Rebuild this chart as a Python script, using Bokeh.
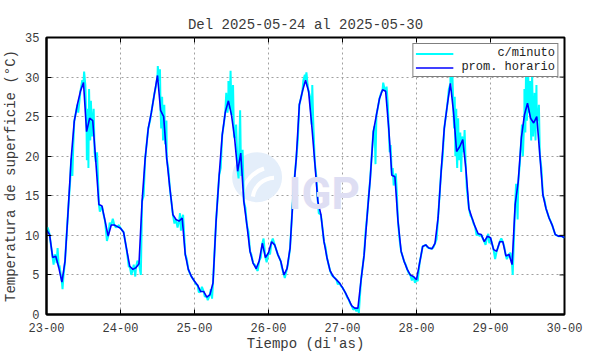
import math
from bokeh.plotting import figure
from bokeh.models import Legend, LegendItem, Range1d, FixedTicker, Label
from bokeh.embed import file_html
from bokeh.resources import INLINE

title_text = "Del 2025-05-24 al 2025-05-30"
x_label = "Tiempo (di'as)"
y_label = "Temperatura de superficie (°C)"
x_tick_hours = [0, 24, 48, 72, 96, 120, 144, 168]
x_tick_labels = ["23-00", "24-00", "25-00", "26-00", "27-00", "28-00", "29-00", "30-00"]
y_ticks = [0, 5, 10, 15, 20, 25, 30, 35]

# hourly mean ("prom. horario"), one value per hour from 23-00 to 30-00
hourly = [
    10.7, 10.1, 7.2, 7.35, 5.9, 4.1, 6.7, 13.0, 19.7, 24.4, 26.5, 28.2, 29.3, 23.1, 24.8, 24.5,
    19.3, 13.9, 13.7, 11.8, 9.9, 11.3, 11.3, 11.1,
    10.9, 10.4, 8.2, 6.1, 5.7, 5.9, 6.4, 14.3, 19.7, 23.5, 25.5, 27.9, 30.2, 25.8, 25.0, 19.7,
    16.0, 12.6, 12.0, 11.8, 12.2, 7.6, 5.7, 4.8,
    4.2, 3.7, 2.9, 2.9, 2.2, 2.5, 4.0, 11.8, 17.6, 22.7, 25.6, 27.0, 25.2, 22.3, 18.1, 20.4,
    14.3, 11.3, 8.0, 6.5, 5.8, 6.8, 9.0, 7.2,
    7.8, 9.2, 8.8, 7.6, 6.7, 5.0, 5.8, 8.4, 15.1, 19.7, 26.5, 28.2, 29.6, 28.2, 24.0, 19.3,
    14.3, 12.6, 9.2, 7.1, 5.5, 4.8, 4.4, 4.0,
    3.4, 2.7, 1.9, 1.1, 0.8, 0.8, 4.3, 7.5, 12.5, 17.2, 23.1, 25.2, 27.3, 28.4, 28.2, 23.5,
    17.6, 17.4, 11.8, 8.0, 6.7, 5.7, 5.0, 4.8,
    4.4, 6.5, 8.6, 8.8, 8.4, 8.3, 9.0, 12.2, 18.1, 23.5, 26.5, 29.2, 25.6, 20.6, 21.2, 22.1,
    18.5, 13.4, 12.2, 11.1, 10.2, 10.1, 9.2, 9.9,
    9.7, 8.2, 8.0, 9.2, 9.2, 7.4, 7.6, 6.3, 13.9, 16.8, 22.3, 25.2, 26.7, 24.8, 24.2, 25.0,
    20.2, 15.1, 13.4, 12.2, 11.3, 10.1, 9.9, 9.9,
    9.7,
]

# per-minute readings ("c/minuto"): excursions (hours from 23-00)
minute_t = [
    0.3, 0.7, 2.3, 2.7, 3.3, 3.6, 4.2, 5.2, 5.5, 7.7, 8.4, 8.7, 10.3, 11.6, 12.2, 12.6, 13.1,
    13.4, 13.6, 13.8, 14.2, 14.4, 14.8, 15.3, 15.6, 16.4, 17.3, 18.4, 19.6, 20.5, 21.5, 22.5, 23.5,
    26.7, 27.5, 28.3, 28.8, 29.5, 30.6, 31.5, 33.6, 35.5, 36.1, 36.5, 36.8, 37.2, 37.5, 37.8,
    38.2, 38.5, 38.9, 39.5, 41.5, 42.5, 43.3, 43.6, 44.3, 45.5, 46.5, 48.5, 49.4, 50.4, 51.3,
    52.3, 53.3, 53.7,
    56.5, 57.5, 58.3, 58.7, 59.0, 59.4, 59.7, 60.2, 60.5, 60.8, 61.5, 62.3, 62.8, 63.2, 63.6,
    64.5, 65.5, 66.5, 67.7, 68.5, 69.5, 70.4, 71.4, 72.5, 73.4, 74.5, 76.3, 77.3, 78.3,
    80.5, 81.5, 82.5, 83.3, 83.8, 84.3, 84.7, 85.5, 86.2, 86.5, 87.5, 88.3, 89.2, 90.5, 91.5,
    92.5, 94.5, 95.5, 97.5, 98.5, 99.5, 100.5, 101.3,
    103.5, 104.5, 106.4, 106.7, 107.5, 108.5, 109.2, 109.6, 110.3, 110.7, 111.3, 111.6, 112.3,
    112.6, 113.3, 113.6, 114.5, 116.5, 117.5, 118.5, 119.5, 120.4, 121.5, 123.5, 125.5, 126.5,
    128.5, 129.5, 130.5, 131.0, 131.3, 131.6, 131.9, 132.2, 132.4, 132.6, 132.9, 133.2, 133.5,
    133.8, 134.2, 134.5, 134.8, 135.3, 135.6, 136.3, 137.5, 138.5, 139.5, 140.5, 141.5, 142.4,
    143.3, 143.6, 145.5, 146.3, 147.5, 148.5, 149.3, 150.5, 151.2,
    152.3, 152.8, 153.5, 154.2, 154.5, 155.0, 155.3, 155.5, 155.8, 156.2, 156.5, 156.8, 157.2,
    157.5, 157.8, 158.3, 158.6, 158.9, 159.4, 159.7, 160.5, 161.5, 163.5, 165.5, 167.5,
]
minute_v = [
    11.0, 10.6, 6.3, 7.6, 6.5, 8.4, 6.2, 3.2, 4.8, 17.0, 17.5, 21.5, 25.5, 29.6, 30.7, 29.0, 19.5,
    26.0, 18.5, 28.5, 22.0, 27.0, 22.5, 26.0, 20.5, 20.5, 13.0, 12.8, 9.3, 11.6, 12.1, 11.0, 11.3,
    6.0, 5.0, 6.3, 4.8, 6.8, 5.0, 15.0, 24.5, 28.8, 31.4, 29.5, 31.0, 23.5, 27.5, 22.0,
    26.5, 21.5, 24.5, 18.5, 11.5, 11.0, 12.8, 10.6, 12.6, 7.0, 5.2, 3.8, 2.8, 3.5, 2.3,
    1.8, 3.2, 2.0,
    18.5, 24.0, 28.0, 25.5, 29.5, 26.0, 30.8, 27.5, 29.0, 22.5, 24.0, 17.2, 25.8, 17.5, 20.8,
    13.5, 10.5, 7.5, 6.2, 5.5, 7.2, 9.6, 6.6, 7.6, 9.6, 8.2, 6.0, 4.6, 6.3,
    17.5, 22.0, 27.3, 29.6, 30.3, 30.6, 29.0, 27.5, 29.0, 24.5, 17.5, 12.8, 12.0, 8.5, 6.3,
    5.0, 3.8, 3.6, 2.2, 1.4, 0.6, 0.4, 0.2,
    10.5, 15.0, 23.8, 19.0, 26.2, 28.0, 29.3, 28.6, 28.8, 26.5, 20.5, 21.4, 18.5,
    16.3, 17.8, 15.5, 9.5, 6.3, 5.2, 4.3, 4.0, 4.2, 7.5, 8.5, 8.5, 9.5,
    20.0, 25.0, 28.5, 30.5, 29.3, 30.8, 27.0, 23.5, 27.5, 20.0, 26.0, 18.5, 24.8,
    19.5, 23.0, 18.0, 22.5, 20.5, 23.3, 16.0, 12.5, 11.5, 10.0, 9.9, 9.6, 8.8,
    10.2, 9.0, 7.0, 8.3, 9.6, 8.5, 7.0, 7.8, 5.0,
    16.5, 12.0, 19.0, 24.0, 20.0, 28.5, 23.0, 30.0, 24.5, 30.7, 25.5, 29.5, 22.0,
    30.5, 22.5, 28.0, 22.0, 29.0, 24.5, 26.5, 18.5, 14.5, 11.8, 10.0, 9.8,
]

hours = list(range(len(hourly)))
pairs = sorted(list(zip(hours, hourly)) + list(zip(minute_t, minute_v)))
cyan_x = [a for a, _ in pairs]
cyan_y = [b for _, b in pairs]

FONT = "Liberation Mono"
TXT = "#3a3a3a"
X0, X1, Y0, Y1 = x_tick_hours[0], x_tick_hours[-1], y_ticks[0], y_ticks[-1]

p = figure(width=590, height=354, output_backend="svg", toolbar_location=None,
           x_range=Range1d(X0, X1), y_range=Range1d(Y0, Y1),
           min_border_left=46, min_border_right=26, min_border_top=37, min_border_bottom=40,
           title=title_text)
p.title.text_font = FONT
p.title.text_font_size = "14px"
p.title.text_font_style = "normal"
p.title.text_color = TXT
p.title.align = "center"
p.background_fill_color = "white"
p.border_fill_color = "white"
p.outline_line_color = "black"
p.outline_line_width = 2

# watermark
p.scatter(x=[68.3], y=[17.35], size=50, fill_color="#e4eefa", line_color=None)
p.arc(x=[74.0], y=[14.5], radius=[22], radius_units="screen", start_angle=1.6, end_angle=3.0,
      line_color="white", line_width=4)
p.arc(x=[74.0], y=[14.5], radius=[33], radius_units="screen", start_angle=1.9, end_angle=2.9,
      line_color="white", line_width=4)
p.add_layout(Label(x=78.5, y=15.2, text="IGP", text_font="Roboto", text_font_size="44px",
                   text_font_style="bold", text_color="#dedef3", text_baseline="alphabetic"))

r_min = p.line(cyan_x, cyan_y, line_color="#00ffff", line_width=2)
r_hr = p.line(hours, hourly, line_color="#0000ff", line_width=1.6)

# inward tick marks on the top and right edges of the frame (clipped to the frame)
p.scatter(x=x_tick_hours, y=[Y1] * len(x_tick_hours), marker="dash", size=10,
          angle=math.pi / 2, line_color="black", line_width=1)
p.scatter(x=[X1] * len(y_ticks), y=y_ticks, marker="dash", size=10,
          line_color="black", line_width=1)

for ax in (p.xaxis[0], p.yaxis[0]):
    ax.axis_line_width = 2
    ax.axis_line_color = "black"
    ax.major_tick_in = 5
    ax.major_tick_out = 0
    ax.minor_tick_in = 0
    ax.minor_tick_out = 0
    ax.major_tick_line_color = "black"
    ax.major_label_text_font = FONT
    ax.major_label_text_font_size = "12px"
    ax.major_label_text_color = TXT
    ax.axis_label_text_font = FONT
    ax.axis_label_text_font_size = "14px"
    ax.axis_label_text_font_style = "normal"
    ax.axis_label_text_color = TXT

p.xaxis[0].ticker = FixedTicker(ticks=x_tick_hours)
p.xaxis[0].major_label_overrides = {h: l for h, l in zip(x_tick_hours, x_tick_labels)}
p.xaxis[0].axis_label = x_label
p.xaxis[0].major_label_standoff = 8
p.xaxis[0].axis_label_standoff = 1
p.yaxis[0].ticker = FixedTicker(ticks=y_ticks)
p.yaxis[0].axis_label = y_label
p.yaxis[0].major_label_standoff = 7
p.yaxis[0].axis_label_standoff = 3

for g in (p.xgrid[0], p.ygrid[0]):
    g.grid_line_color = "#a0a0a0"
    g.grid_line_dash = "2 3"
    g.grid_line_width = 1
p.xgrid[0].ticker = FixedTicker(ticks=x_tick_hours)
p.ygrid[0].ticker = FixedTicker(ticks=y_ticks)

legend = Legend(items=[LegendItem(label="\u00a0\u00a0\u00a0\u00a0\u00a0c/minuto", renderers=[r_min]),
                       LegendItem(label="prom. horario", renderers=[r_hr])],
                location="top_right", label_text_font=FONT, label_text_font_size="12px",
                label_text_color="#222222", glyph_width=38, glyph_height=11, label_height=11,
                label_standoff=8, spacing=0, padding=2, margin=6,
                border_line_color="black", border_line_width=1, background_fill_alpha=1)
p.add_layout(legend, "center")

open("out.html", "w").write(file_html(p, INLINE))
